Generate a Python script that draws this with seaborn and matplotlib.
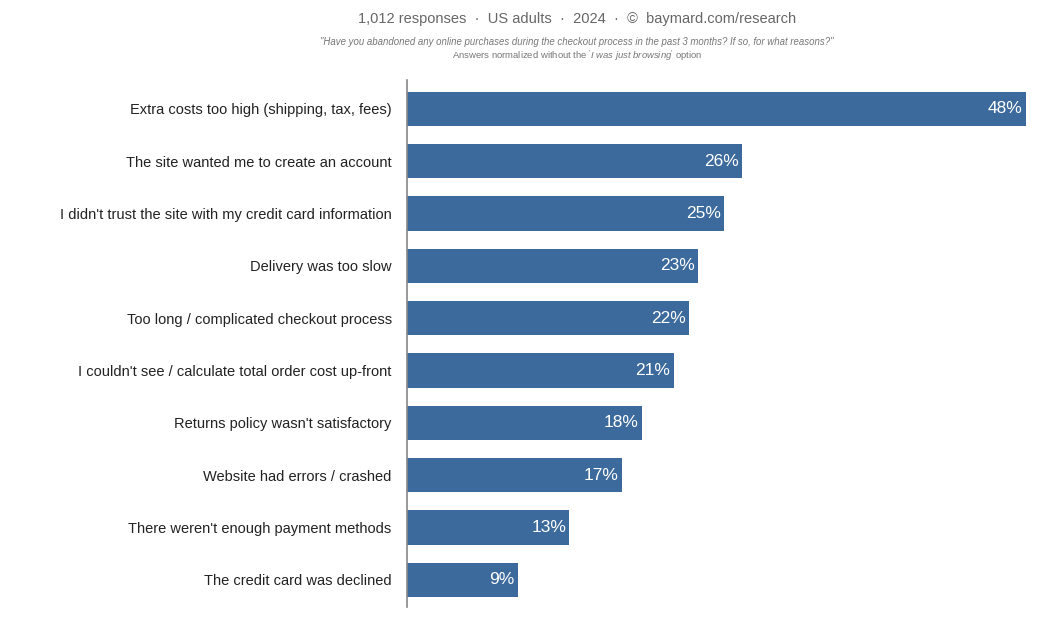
import pandas as pd
import numpy as np
import matplotlib.pyplot as plt
import seaborn as sns

# Data
reasons = [
    "Extra costs too high (shipping, tax, fees)",
    "The site wanted me to create an account",
    "I didn't trust the site with my credit card information",
    "Delivery was too slow",
    "Too long / complicated checkout process",
    "I couldn't see / calculate total order cost up-front",
    "Returns policy wasn't satisfactory",
    "Website had errors / crashed",
    "There weren't enough payment methods",
    "The credit card was declined",
]
shares = [48.0, 26.0, 24.6, 22.6, 21.9, 20.7, 18.2, 16.7, 12.6, 8.6]
value_labels = ["48%", "26%", "25%", "23%", "22%", "21%", "18%", "17%", "13%", "9%"]

df = pd.DataFrame({"reason": reasons, "share": shares})

# Style
sns.set_style("white")
plt.rcParams['font.family'] = ['Liberation Sans', 'DejaVu Sans']
plt.rcParams['mathtext.fontset'] = 'custom'
plt.rcParams['mathtext.rm'] = 'Liberation Sans'
plt.rcParams['mathtext.it'] = 'Liberation Sans:italic'

fig = plt.figure(figsize=(10.47, 6.28), dpi=100)
ax = fig.add_axes([0.3887, 0.0334, 0.98 - 0.3887, 0.8726 - 0.0334])

sns.barplot(data=df, x="share", y="reason", color="#3d6a9c", saturation=1,
            width=0.66, linewidth=0, ax=ax)

ax.set_xlim(0, max(shares))
ax.set_ylim(len(reasons) - 0.5 + 0.02, -0.5 - 0.05)
ax.set_xlabel("")
ax.set_ylabel("")
ax.set_xticks([])
ax.tick_params(axis='y', length=0, pad=11, labelsize=10.5, labelcolor='#222222')
for side in ['top', 'right', 'bottom']:
    ax.spines[side].set_visible(False)
ax.spines['left'].set_color('#888888')
ax.spines['left'].set_linewidth(1.2)

# Value labels inside bar ends
for i, (v, lab) in enumerate(zip(shares, value_labels)):
    ax.annotate(lab, xy=(v, i), xytext=(-2.5, 0), textcoords='offset points',
                ha='right', va='center', color='white', fontsize=12.5)

# Header
fig.text(0.551, 0.969, "1,012 responses  ·  US adults  ·  2024  ·  ©  baymard.com/research",
         ha='center', va='center', fontsize=10.5, color='#666666')
fig.text(0.551, 0.933,
         "\"Have you abandoned any online purchases during the checkout process in the past 3 months? If so, for what reasons?\"",
         ha='center', va='center', fontsize=6.9, color='#777777', style='italic')
fig.text(0.551, 0.910,
         r"Answers normalized without the $\it{'I\ was\ just\ browsing'}$ option",
         ha='center', va='center', fontsize=6.8, color='#777777')

plt.savefig('out.png', dpi=100)
plt.close()
